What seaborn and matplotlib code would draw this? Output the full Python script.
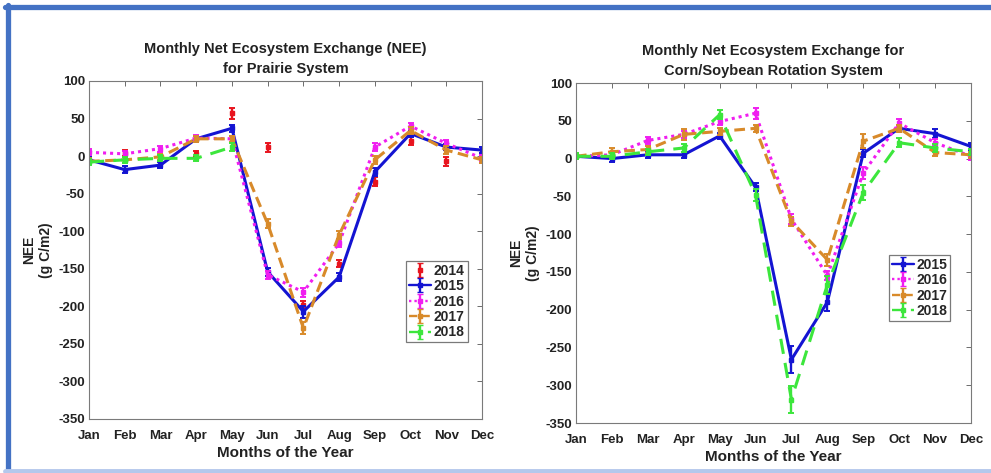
import numpy as np
import pandas as pd
import seaborn as sns
import matplotlib
matplotlib.use("Agg")
import matplotlib.pyplot as plt
from matplotlib.lines import Line2D

nan = np.nan
months = ["Jan", "Feb", "Mar", "Apr", "May", "Jun", "Jul", "Aug", "Sep", "Oct", "Nov", "Dec"]
yticks = [-350, -300, -250, -200, -150, -100, -50, 0, 50, 100]

# Prairie system
pr_2014 = [nan, 4, nan, 3, 57, 12, -198, -143, -34, 20, -7, -3]
pr_2015 = [-5, -18, -12, 23, 37, -154, -207, -161, -21, 30, 12, 8]
pr_2016 = [5, 3, 10, 24, 23, -158, -181, -116, 12, 40, 17, -3]
pr_2017 = [-7, -5, -1, 23, 23, -90, -229, -105, -5, 34, 8, -5]
pr_2018 = [-8, -5, -3, -3, 12, nan, nan, nan, nan, nan, nan, nan]
pr_err_2014 = [nan, 4, nan, 4, 7, 6, 5, 5, 6, 5, 6, 4]
pr_err_2015 = [4, 5, 4, 4, 5, 5, 8, 5, 5, 4, 4, 4]
pr_err_2016 = [4, 4, 4, 4, 4, 5, 6, 5, 5, 4, 4, 4]
pr_err_2017 = [4, 4, 4, 4, 4, 6, 8, 5, 5, 5, 5, 4]
pr_err_2018 = [4, 4, 4, 4, 5, nan, nan, nan, nan, nan, nan, nan]

# Corn/Soybean rotation system
cs_2015 = [3, 0, 5, 5, 30, -38, -266, -190, 7, 40, 33, 16]
cs_2016 = [3, 5, 24, 32, 49, 60, -80, -155, -19, 47, 21, 3]
cs_2017 = [3, 9, 12, 32, 36, 40, -83, -134, 23, 40, 8, 5]
cs_2018 = [3, 3, 9, 14, 58, -48, -319, -167, -45, 21, 14, 9]
cs_err_2015 = [4, 4, 4, 4, 4, 5, 18, 12, 5, 5, 6, 5]
cs_err_2016 = [4, 4, 5, 5, 5, 7, 6, 6, 8, 5, 5, 5]
cs_err_2017 = [4, 5, 4, 7, 5, 5, 6, 8, 9, 5, 5, 4]
cs_err_2018 = [4, 4, 4, 5, 6, 8, 18, 12, 10, 6, 5, 4]

styles = {
    "2014": dict(color="#E8141E", ls="none", lw=2.0),
    "2015": dict(color="#1414D2", ls="-", lw=2.2),
    "2016": dict(color="#F01EF0", ls=(0, (1, 1.3)), lw=2.2),
    "2017": dict(color="#D88A2A", ls=(0, (3.5, 1.8)), lw=2.2),
    "2018": dict(color="#3CE63C", ls=(0, (5, 3)), lw=2.2),
}

sns.set_style("white")
plt.rcParams["font.family"] = ["Liberation Sans", "DejaVu Sans"]

fig = plt.figure(figsize=(9.91, 4.73), dpi=100)
axL = fig.add_axes([0.0898, 0.1142, 0.3966, 0.7146])
axR = fig.add_axes([0.5812, 0.1057, 0.3986, 0.7188])


def draw(ax, series, title):
    x = np.arange(1, 13)
    handles = []
    for year, vals, errs in series:
        st = styles[year]
        df = pd.DataFrame({"month": x, "nee": vals}).dropna()
        if st["ls"] != "none":
            sns.lineplot(data=df, x="month", y="nee", ax=ax, color=st["color"],
                         linestyle=st["ls"], linewidth=st["lw"], legend=False)
        e = np.array(errs, dtype=float)
        v = np.array(vals, dtype=float)
        m = ~np.isnan(v)
        ax.errorbar(x[m], v[m], yerr=e[m], fmt="none", ecolor=st["color"],
                    elinewidth=1.7, capsize=2.2, capthick=1.4)
        ax.plot(x[m], v[m], linestyle="none", marker="s", markersize=3.5,
                color=st["color"])
        h = ax.errorbar([nan], [nan], yerr=[1], color=st["color"],
                        linestyle=st["ls"] if st["ls"] != "none" else "none",
                        linewidth=1.7, marker="s", markersize=3, capsize=2,
                        label=year)
        handles.append(h)
    ax.set_xlim(1, 12)
    ax.set_ylim(-350, 100)
    ax.set_xticks(np.arange(1, 13))
    ax.set_xticklabels(months, fontweight="bold", fontsize=9.5)
    ax.set_yticks(yticks)
    ax.set_yticklabels([str(t) for t in yticks], fontweight="bold", fontsize=9.5)
    ax.tick_params(direction="in", length=3.5, width=0.6, top=True, right=True,
                   color="#555555", labelcolor="#222222", pad=3)
    ax.tick_params(axis="x", pad=8)
    for s in ax.spines.values():
        s.set_color("#7a7a7a")
        s.set_linewidth(0.8)
    ax.set_xlabel("Months of the Year", fontweight="bold", fontsize=11,
                  labelpad=3, color="#222222")
    ax.set_ylabel("NEE\n(g C/m2)", fontweight="bold", fontsize=10, labelpad=4,
                  color="#222222")
    ax.set_title(title, fontweight="bold", fontsize=10.5, pad=6, linespacing=1.5,
                 color="#222222")
    return handles


hL = draw(axL, [("2014", pr_2014, pr_err_2014), ("2015", pr_2015, pr_err_2015),
                ("2016", pr_2016, pr_err_2016), ("2017", pr_2017, pr_err_2017),
                ("2018", pr_2018, pr_err_2018)],
          "Monthly Net Ecosystem Exchange (NEE)\nfor Prairie System")
hR = draw(axR, [("2015", cs_2015, cs_err_2015), ("2016", cs_2016, cs_err_2016),
                ("2017", cs_2017, cs_err_2017), ("2018", cs_2018, cs_err_2018)],
          "Monthly Net Ecosystem Exchange for\nCorn/Soybean Rotation System")

for ax, hs, loc in [(axL, hL, (0.807, 0.467)), (axR, hR, (0.792, 0.494))]:
    leg = ax.legend(handles=hs, labels=[h.get_label() for h in hs],
                    loc="upper left", bbox_to_anchor=loc, frameon=True,
                    fancybox=False, edgecolor="#7a7a7a", framealpha=1,
                    prop={"weight": "bold", "size": 10}, handlelength=1.6,
                    handletextpad=0.2, borderpad=0.2, labelspacing=0.1,
                    borderaxespad=0)
    leg.get_frame().set_linewidth(0.9)

# blue slide frame
W, H = 991, 473
fig.add_artist(Line2D([5 / W, 1.0], [1 - 7.5 / H, 1 - 7.5 / H], color="#4472C4",
                      lw=3.8, transform=fig.transFigure))
fig.add_artist(Line2D([7.5 / W, 7.5 / W], [1 - 5 / H, 3 / H], color="#4472C4",
                      lw=3.8, transform=fig.transFigure))
fig.add_artist(Line2D([5 / W, 1.0], [2 / H, 2 / H], color="#B4C8EC",
                      lw=3.5, transform=fig.transFigure))

fig.savefig("out.png", dpi=100)
